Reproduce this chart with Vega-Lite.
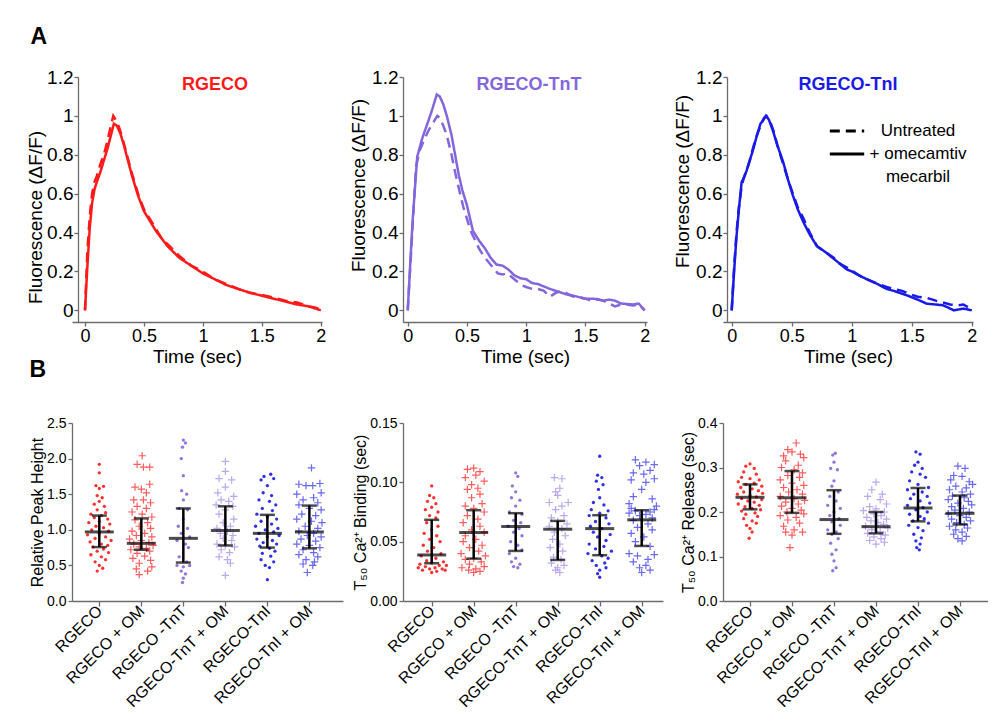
{
"$schema":"https://vega.github.io/schema/vega-lite/v6.json",
"background":"white",
"padding":{"left":26,"top":26,"right":0,"bottom":0},
"title":{"text":"A","fontSize":23,"fontWeight":"bold","anchor":"start","frame":"bounds","baseline":"middle","offset":8,"dx":4,"color":"#000"},
"config":{
 "font":"Liberation Sans",
 "view":{"stroke":null},
 "axis":{"grid":false,"domainColor":"#6b6b6b","tickColor":"#6b6b6b","domainWidth":1.3,"tickWidth":1.3,"tickSize":4,"labelColor":"#000","titleColor":"#000","titleFontWeight":"normal","labelFont":"Liberation Sans","titleFont":"Liberation Sans","labelFontSize":14,"titleFontSize":16,"labelPadding":2,"titlePadding":1},
 "title":{"font":"Liberation Sans","fontSize":18,"fontWeight":"bold","frame":"group","anchor":"middle","baseline":"middle","offset":-26},
 "legend":{"labelFont":"Liberation Sans"}
},
"datasets":{
"tr":[
{"c":"R","tr":"OM","t":0,"v":0},{"c":"R","tr":"OM","t":0.02,"v":0.22},{"c":"R","tr":"OM","t":0.04,"v":0.42},{"c":"R","tr":"OM","t":0.06,"v":0.55},{"c":"R","tr":"OM","t":0.08,"v":0.62},{"c":"R","tr":"OM","t":0.1,"v":0.66},{"c":"R","tr":"OM","t":0.13,"v":0.71},{"c":"R","tr":"OM","t":0.16,"v":0.77},{"c":"R","tr":"OM","t":0.19,"v":0.83},{"c":"R","tr":"OM","t":0.22,"v":0.9},{"c":"R","tr":"OM","t":0.245,"v":0.96},{"c":"R","tr":"OM","t":0.27,"v":0.95},{"c":"R","tr":"OM","t":0.3,"v":0.91},{"c":"R","tr":"OM","t":0.33,"v":0.85},{"c":"R","tr":"OM","t":0.36,"v":0.78},{"c":"R","tr":"OM","t":0.4,"v":0.69},{"c":"R","tr":"OM","t":0.45,"v":0.59},{"c":"R","tr":"OM","t":0.5,"v":0.51},{"c":"R","tr":"OM","t":0.55,"v":0.46},{"c":"R","tr":"OM","t":0.6,"v":0.41},{"c":"R","tr":"OM","t":0.65,"v":0.37},{"c":"R","tr":"OM","t":0.7,"v":0.33},{"c":"R","tr":"OM","t":0.75,"v":0.3},{"c":"R","tr":"OM","t":0.8,"v":0.27},{"c":"R","tr":"OM","t":0.9,"v":0.23},{"c":"R","tr":"OM","t":1.0,"v":0.19},{"c":"R","tr":"OM","t":1.1,"v":0.16},{"c":"R","tr":"OM","t":1.2,"v":0.13},{"c":"R","tr":"OM","t":1.3,"v":0.11},{"c":"R","tr":"OM","t":1.4,"v":0.09},{"c":"R","tr":"OM","t":1.5,"v":0.075},{"c":"R","tr":"OM","t":1.6,"v":0.06},{"c":"R","tr":"OM","t":1.7,"v":0.045},{"c":"R","tr":"OM","t":1.8,"v":0.03},{"c":"R","tr":"OM","t":1.9,"v":0.02},{"c":"R","tr":"OM","t":2.0,"v":0.0},
{"c":"R","tr":"U","t":0,"v":0},{"c":"R","tr":"U","t":0.02,"v":0.3},{"c":"R","tr":"U","t":0.04,"v":0.48},{"c":"R","tr":"U","t":0.06,"v":0.6},{"c":"R","tr":"U","t":0.08,"v":0.66},{"c":"R","tr":"U","t":0.1,"v":0.69},{"c":"R","tr":"U","t":0.13,"v":0.75},{"c":"R","tr":"U","t":0.16,"v":0.8},{"c":"R","tr":"U","t":0.19,"v":0.87},{"c":"R","tr":"U","t":0.22,"v":0.95},{"c":"R","tr":"U","t":0.24,"v":1.0},{"c":"R","tr":"U","t":0.26,"v":0.98},{"c":"R","tr":"U","t":0.29,"v":0.94},{"c":"R","tr":"U","t":0.32,"v":0.88},{"c":"R","tr":"U","t":0.36,"v":0.79},{"c":"R","tr":"U","t":0.4,"v":0.7},{"c":"R","tr":"U","t":0.45,"v":0.6},{"c":"R","tr":"U","t":0.5,"v":0.52},{"c":"R","tr":"U","t":0.55,"v":0.47},{"c":"R","tr":"U","t":0.6,"v":0.42},{"c":"R","tr":"U","t":0.65,"v":0.37},{"c":"R","tr":"U","t":0.7,"v":0.34},{"c":"R","tr":"U","t":0.75,"v":0.31},{"c":"R","tr":"U","t":0.8,"v":0.28},{"c":"R","tr":"U","t":0.9,"v":0.23},{"c":"R","tr":"U","t":1.0,"v":0.2},{"c":"R","tr":"U","t":1.1,"v":0.16},{"c":"R","tr":"U","t":1.2,"v":0.135},{"c":"R","tr":"U","t":1.3,"v":0.11},{"c":"R","tr":"U","t":1.4,"v":0.09},{"c":"R","tr":"U","t":1.5,"v":0.08},{"c":"R","tr":"U","t":1.6,"v":0.065},{"c":"R","tr":"U","t":1.7,"v":0.05},{"c":"R","tr":"U","t":1.8,"v":0.04},{"c":"R","tr":"U","t":1.9,"v":0.02},{"c":"R","tr":"U","t":1.95,"v":0.015},{"c":"R","tr":"U","t":2.0,"v":0.005},
{"c":"T","tr":"OM","t":0,"v":0},{"c":"T","tr":"OM","t":0.04,"v":0.45},{"c":"T","tr":"OM","t":0.08,"v":0.79},{"c":"T","tr":"OM","t":0.12,"v":0.88},{"c":"T","tr":"OM","t":0.16,"v":0.95},{"c":"T","tr":"OM","t":0.2,"v":1.02},{"c":"T","tr":"OM","t":0.245,"v":1.11},{"c":"T","tr":"OM","t":0.27,"v":1.1},{"c":"T","tr":"OM","t":0.3,"v":1.06},{"c":"T","tr":"OM","t":0.33,"v":1.0},{"c":"T","tr":"OM","t":0.37,"v":0.9},{"c":"T","tr":"OM","t":0.4,"v":0.8},{"c":"T","tr":"OM","t":0.43,"v":0.7},{"c":"T","tr":"OM","t":0.46,"v":0.62},{"c":"T","tr":"OM","t":0.5,"v":0.54},{"c":"T","tr":"OM","t":0.55,"v":0.41},{"c":"T","tr":"OM","t":0.6,"v":0.36},{"c":"T","tr":"OM","t":0.65,"v":0.32},{"c":"T","tr":"OM","t":0.7,"v":0.27},{"c":"T","tr":"OM","t":0.75,"v":0.235},{"c":"T","tr":"OM","t":0.8,"v":0.23},{"c":"T","tr":"OM","t":0.85,"v":0.21},{"c":"T","tr":"OM","t":0.9,"v":0.18},{"c":"T","tr":"OM","t":0.95,"v":0.165},{"c":"T","tr":"OM","t":1.0,"v":0.16},{"c":"T","tr":"OM","t":1.05,"v":0.14},{"c":"T","tr":"OM","t":1.1,"v":0.135},{"c":"T","tr":"OM","t":1.2,"v":0.11},{"c":"T","tr":"OM","t":1.25,"v":0.1},{"c":"T","tr":"OM","t":1.3,"v":0.09},{"c":"T","tr":"OM","t":1.35,"v":0.08},{"c":"T","tr":"OM","t":1.4,"v":0.075},{"c":"T","tr":"OM","t":1.5,"v":0.06},{"c":"T","tr":"OM","t":1.55,"v":0.06},{"c":"T","tr":"OM","t":1.6,"v":0.058},{"c":"T","tr":"OM","t":1.65,"v":0.05},{"c":"T","tr":"OM","t":1.7,"v":0.055},{"c":"T","tr":"OM","t":1.75,"v":0.05},{"c":"T","tr":"OM","t":1.8,"v":0.035},{"c":"T","tr":"OM","t":1.9,"v":0.03},{"c":"T","tr":"OM","t":1.95,"v":0.035},{"c":"T","tr":"OM","t":2.0,"v":0.0},
{"c":"T","tr":"U","t":0,"v":0},{"c":"T","tr":"U","t":0.04,"v":0.42},{"c":"T","tr":"U","t":0.07,"v":0.74},{"c":"T","tr":"U","t":0.1,"v":0.82},{"c":"T","tr":"U","t":0.14,"v":0.88},{"c":"T","tr":"U","t":0.18,"v":0.93},{"c":"T","tr":"U","t":0.22,"v":0.97},{"c":"T","tr":"U","t":0.25,"v":1.0},{"c":"T","tr":"U","t":0.27,"v":0.99},{"c":"T","tr":"U","t":0.3,"v":0.95},{"c":"T","tr":"U","t":0.33,"v":0.9},{"c":"T","tr":"U","t":0.37,"v":0.8},{"c":"T","tr":"U","t":0.4,"v":0.71},{"c":"T","tr":"U","t":0.43,"v":0.63},{"c":"T","tr":"U","t":0.47,"v":0.53},{"c":"T","tr":"U","t":0.5,"v":0.47},{"c":"T","tr":"U","t":0.53,"v":0.41},{"c":"T","tr":"U","t":0.57,"v":0.36},{"c":"T","tr":"U","t":0.6,"v":0.32},{"c":"T","tr":"U","t":0.64,"v":0.28},{"c":"T","tr":"U","t":0.68,"v":0.25},{"c":"T","tr":"U","t":0.72,"v":0.22},{"c":"T","tr":"U","t":0.76,"v":0.19},{"c":"T","tr":"U","t":0.8,"v":0.185},{"c":"T","tr":"U","t":0.84,"v":0.19},{"c":"T","tr":"U","t":0.88,"v":0.17},{"c":"T","tr":"U","t":0.92,"v":0.15},{"c":"T","tr":"U","t":0.96,"v":0.13},{"c":"T","tr":"U","t":1.0,"v":0.12},{"c":"T","tr":"U","t":1.05,"v":0.11},{"c":"T","tr":"U","t":1.1,"v":0.11},{"c":"T","tr":"U","t":1.15,"v":0.1},{"c":"T","tr":"U","t":1.2,"v":0.07},{"c":"T","tr":"U","t":1.25,"v":0.09},{"c":"T","tr":"U","t":1.3,"v":0.1},{"c":"T","tr":"U","t":1.35,"v":0.085},{"c":"T","tr":"U","t":1.4,"v":0.07},{"c":"T","tr":"U","t":1.45,"v":0.065},{"c":"T","tr":"U","t":1.5,"v":0.06},{"c":"T","tr":"U","t":1.55,"v":0.05},{"c":"T","tr":"U","t":1.6,"v":0.055},{"c":"T","tr":"U","t":1.65,"v":0.05},{"c":"T","tr":"U","t":1.7,"v":0.035},{"c":"T","tr":"U","t":1.75,"v":0.02},{"c":"T","tr":"U","t":1.8,"v":0.03},{"c":"T","tr":"U","t":1.85,"v":0.03},{"c":"T","tr":"U","t":1.9,"v":0.025},{"c":"T","tr":"U","t":1.95,"v":0.03},{"c":"T","tr":"U","t":2.0,"v":0.0},
{"c":"I","tr":"OM","t":0,"v":0},{"c":"I","tr":"OM","t":0.02,"v":0.2},{"c":"I","tr":"OM","t":0.04,"v":0.38},{"c":"I","tr":"OM","t":0.06,"v":0.52},{"c":"I","tr":"OM","t":0.083,"v":0.66},{"c":"I","tr":"OM","t":0.1,"v":0.68},{"c":"I","tr":"OM","t":0.125,"v":0.72},{"c":"I","tr":"OM","t":0.15,"v":0.77},{"c":"I","tr":"OM","t":0.18,"v":0.83},{"c":"I","tr":"OM","t":0.21,"v":0.9},{"c":"I","tr":"OM","t":0.24,"v":0.96},{"c":"I","tr":"OM","t":0.265,"v":0.98},{"c":"I","tr":"OM","t":0.285,"v":1.0},{"c":"I","tr":"OM","t":0.31,"v":0.98},{"c":"I","tr":"OM","t":0.34,"v":0.93},{"c":"I","tr":"OM","t":0.38,"v":0.85},{"c":"I","tr":"OM","t":0.43,"v":0.76},{"c":"I","tr":"OM","t":0.47,"v":0.67},{"c":"I","tr":"OM","t":0.51,"v":0.59},{"c":"I","tr":"OM","t":0.55,"v":0.52},{"c":"I","tr":"OM","t":0.6,"v":0.45},{"c":"I","tr":"OM","t":0.65,"v":0.39},{"c":"I","tr":"OM","t":0.71,"v":0.33},{"c":"I","tr":"OM","t":0.78,"v":0.3},{"c":"I","tr":"OM","t":0.85,"v":0.265},{"c":"I","tr":"OM","t":0.9,"v":0.24},{"c":"I","tr":"OM","t":0.96,"v":0.21},{"c":"I","tr":"OM","t":1.0,"v":0.2},{"c":"I","tr":"OM","t":1.06,"v":0.18},{"c":"I","tr":"OM","t":1.125,"v":0.16},{"c":"I","tr":"OM","t":1.2,"v":0.14},{"c":"I","tr":"OM","t":1.29,"v":0.11},{"c":"I","tr":"OM","t":1.35,"v":0.1},{"c":"I","tr":"OM","t":1.46,"v":0.077},{"c":"I","tr":"OM","t":1.55,"v":0.055},{"c":"I","tr":"OM","t":1.625,"v":0.034},{"c":"I","tr":"OM","t":1.7,"v":0.03},{"c":"I","tr":"OM","t":1.76,"v":0.026},{"c":"I","tr":"OM","t":1.8,"v":0.015},{"c":"I","tr":"OM","t":1.85,"v":0.0},{"c":"I","tr":"OM","t":1.93,"v":0.009},{"c":"I","tr":"OM","t":2.0,"v":0.0},
{"c":"I","tr":"U","t":0,"v":0},{"c":"I","tr":"U","t":0.02,"v":0.22},{"c":"I","tr":"U","t":0.04,"v":0.4},{"c":"I","tr":"U","t":0.06,"v":0.53},{"c":"I","tr":"U","t":0.083,"v":0.64},{"c":"I","tr":"U","t":0.1,"v":0.68},{"c":"I","tr":"U","t":0.125,"v":0.72},{"c":"I","tr":"U","t":0.15,"v":0.77},{"c":"I","tr":"U","t":0.18,"v":0.84},{"c":"I","tr":"U","t":0.21,"v":0.9},{"c":"I","tr":"U","t":0.24,"v":0.95},{"c":"I","tr":"U","t":0.27,"v":0.99},{"c":"I","tr":"U","t":0.29,"v":1.0},{"c":"I","tr":"U","t":0.32,"v":0.97},{"c":"I","tr":"U","t":0.35,"v":0.92},{"c":"I","tr":"U","t":0.38,"v":0.85},{"c":"I","tr":"U","t":0.43,"v":0.75},{"c":"I","tr":"U","t":0.47,"v":0.67},{"c":"I","tr":"U","t":0.51,"v":0.6},{"c":"I","tr":"U","t":0.55,"v":0.53},{"c":"I","tr":"U","t":0.6,"v":0.47},{"c":"I","tr":"U","t":0.62,"v":0.44},{"c":"I","tr":"U","t":0.65,"v":0.4},{"c":"I","tr":"U","t":0.71,"v":0.33},{"c":"I","tr":"U","t":0.78,"v":0.3},{"c":"I","tr":"U","t":0.85,"v":0.27},{"c":"I","tr":"U","t":0.9,"v":0.24},{"c":"I","tr":"U","t":0.96,"v":0.22},{"c":"I","tr":"U","t":1.0,"v":0.205},{"c":"I","tr":"U","t":1.06,"v":0.18},{"c":"I","tr":"U","t":1.125,"v":0.16},{"c":"I","tr":"U","t":1.2,"v":0.14},{"c":"I","tr":"U","t":1.29,"v":0.12},{"c":"I","tr":"U","t":1.35,"v":0.11},{"c":"I","tr":"U","t":1.42,"v":0.1},{"c":"I","tr":"U","t":1.5,"v":0.08},{"c":"I","tr":"U","t":1.55,"v":0.07},{"c":"I","tr":"U","t":1.62,"v":0.065},{"c":"I","tr":"U","t":1.7,"v":0.05},{"c":"I","tr":"U","t":1.76,"v":0.04},{"c":"I","tr":"U","t":1.82,"v":0.03},{"c":"I","tr":"U","t":1.88,"v":0.025},{"c":"I","tr":"U","t":1.93,"v":0.03},{"c":"I","tr":"U","t":2.0,"v":0.005}
],
"stats":[
{"m":"h","x":0,"y":0.97,"lo":0.757,"hi":1.2},{"m":"h","x":1,"y":0.81,"lo":0.72,"hi":1.16},{"m":"h","x":2,"y":0.88,"lo":0.54,"hi":1.3},{"m":"h","x":3,"y":0.99,"lo":0.78,"hi":1.33},{"m":"h","x":4,"y":0.95,"lo":0.75,"hi":1.21},{"m":"h","x":5,"y":0.97,"lo":0.74,"hi":1.34},
{"m":"b","x":0,"y":0.0388,"lo":0.0318,"hi":0.0684},{"m":"b","x":1,"y":0.0577,"lo":0.0357,"hi":0.0765},{"m":"b","x":2,"y":0.0628,"lo":0.0422,"hi":0.074},{"m":"b","x":3,"y":0.0605,"lo":0.0346,"hi":0.0675},{"m":"b","x":4,"y":0.061,"lo":0.0386,"hi":0.0723},{"m":"b","x":5,"y":0.0684,"lo":0.0464,"hi":0.0765},
{"m":"r","x":0,"y":0.233,"lo":0.206,"hi":0.262},{"m":"r","x":1,"y":0.232,"lo":0.198,"hi":0.292},{"m":"r","x":2,"y":0.183,"lo":0.151,"hi":0.249},{"m":"r","x":3,"y":0.167,"lo":0.152,"hi":0.2},{"m":"r","x":4,"y":0.209,"lo":0.179,"hi":0.254},{"m":"r","x":5,"y":0.197,"lo":0.172,"hi":0.237}
],
"pts":[
{"m":"h","g":0,"x":0,"y":1.92},{"m":"h","g":0,"x":0,"y":1.8},{"m":"h","g":0,"x":-0.08,"y":1.62},{"m":"h","g":0,"x":0.1,"y":1.61},{"m":"h","g":0,"x":0,"y":1.58},{"m":"h","g":0,"x":-0.05,"y":1.48},{"m":"h","g":0,"x":0.07,"y":1.45},{"m":"h","g":0,"x":0,"y":1.4},{"m":"h","g":0,"x":-0.12,"y":1.36},{"m":"h","g":0,"x":0.12,"y":1.33},{"m":"h","g":0,"x":-0.05,"y":1.28},{"m":"h","g":0,"x":0.15,"y":1.24},{"m":"h","g":0,"x":-0.2,"y":1.22},{"m":"h","g":0,"x":0.05,"y":1.2},{"m":"h","g":0,"x":-0.12,"y":1.17},{"m":"h","g":0,"x":0.2,"y":1.15},{"m":"h","g":0,"x":0,"y":1.12},{"m":"h","g":0,"x":-0.25,"y":1.1},{"m":"h","g":0,"x":0.25,"y":1.08},{"m":"h","g":0,"x":-0.08,"y":1.05},{"m":"h","g":0,"x":0.1,"y":1.03},{"m":"h","g":0,"x":-0.18,"y":1},{"m":"h","g":0,"x":0.22,"y":0.98},{"m":"h","g":0,"x":0,"y":0.95},{"m":"h","g":0,"x":-0.28,"y":0.93},{"m":"h","g":0,"x":0.15,"y":0.9},{"m":"h","g":0,"x":-0.1,"y":0.88},{"m":"h","g":0,"x":0.28,"y":0.85},{"m":"h","g":0,"x":-0.22,"y":0.83},{"m":"h","g":0,"x":0.05,"y":0.8},{"m":"h","g":0,"x":0.2,"y":0.78},{"m":"h","g":0,"x":-0.15,"y":0.76},{"m":"h","g":0,"x":0.1,"y":0.73},{"m":"h","g":0,"x":-0.05,"y":0.7},{"m":"h","g":0,"x":0.22,"y":0.68},{"m":"h","g":0,"x":-0.2,"y":0.65},{"m":"h","g":0,"x":0.05,"y":0.62},{"m":"h","g":0,"x":0.15,"y":0.58},{"m":"h","g":0,"x":-0.1,"y":0.55},{"m":"h","g":0,"x":0,"y":0.5},{"m":"h","g":0,"x":0.08,"y":0.46},{"m":"h","g":0,"x":-0.05,"y":0.42},
{"m":"h","g":1,"x":1.02,"y":2.04},{"m":"h","g":1,"x":0.9,"y":1.92},{"m":"h","g":1,"x":1.05,"y":1.88},{"m":"h","g":1,"x":1.2,"y":1.88},{"m":"h","g":1,"x":1.2,"y":1.64},{"m":"h","g":1,"x":0.85,"y":1.6},{"m":"h","g":1,"x":1.0,"y":1.57},{"m":"h","g":1,"x":1.12,"y":1.52},{"m":"h","g":1,"x":0.82,"y":1.42},{"m":"h","g":1,"x":1.05,"y":1.42},{"m":"h","g":1,"x":1.22,"y":1.38},{"m":"h","g":1,"x":0.9,"y":1.33},{"m":"h","g":1,"x":1.12,"y":1.3},{"m":"h","g":1,"x":0.78,"y":1.25},{"m":"h","g":1,"x":1.02,"y":1.22},{"m":"h","g":1,"x":1.25,"y":1.18},{"m":"h","g":1,"x":0.85,"y":1.14},{"m":"h","g":1,"x":1.15,"y":1.1},{"m":"h","g":1,"x":0.95,"y":1.05},{"m":"h","g":1,"x":1.22,"y":1.02},{"m":"h","g":1,"x":0.78,"y":0.98},{"m":"h","g":1,"x":1.08,"y":0.95},{"m":"h","g":1,"x":0.88,"y":0.92},{"m":"h","g":1,"x":1.25,"y":0.9},{"m":"h","g":1,"x":0.72,"y":0.87},{"m":"h","g":1,"x":1.0,"y":0.85},{"m":"h","g":1,"x":1.18,"y":0.82},{"m":"h","g":1,"x":0.82,"y":0.8},{"m":"h","g":1,"x":1.28,"y":0.78},{"m":"h","g":1,"x":0.95,"y":0.76},{"m":"h","g":1,"x":1.12,"y":0.74},{"m":"h","g":1,"x":0.75,"y":0.72},{"m":"h","g":1,"x":1.2,"y":0.7},{"m":"h","g":1,"x":0.9,"y":0.67},{"m":"h","g":1,"x":1.08,"y":0.63},{"m":"h","g":1,"x":0.8,"y":0.6},{"m":"h","g":1,"x":1.22,"y":0.57},{"m":"h","g":1,"x":0.95,"y":0.53},{"m":"h","g":1,"x":1.25,"y":0.48},{"m":"h","g":1,"x":0.88,"y":0.45},{"m":"h","g":1,"x":1.15,"y":0.42},{"m":"h","g":1,"x":0.95,"y":0.37},
{"m":"h","g":2,"x":2,"y":2.26},{"m":"h","g":2,"x":2.05,"y":2.22},{"m":"h","g":2,"x":1.98,"y":2.16},{"m":"h","g":2,"x":1.95,"y":2.0},{"m":"h","g":2,"x":2,"y":1.76},{"m":"h","g":2,"x":1.96,"y":1.55},{"m":"h","g":2,"x":2.08,"y":1.5},{"m":"h","g":2,"x":2,"y":1.42},{"m":"h","g":2,"x":1.9,"y":1.3},{"m":"h","g":2,"x":2.1,"y":1.28},{"m":"h","g":2,"x":2,"y":1.15},{"m":"h","g":2,"x":1.88,"y":1.05},{"m":"h","g":2,"x":2.1,"y":1.02},{"m":"h","g":2,"x":1.95,"y":0.95},{"m":"h","g":2,"x":2.15,"y":0.9},{"m":"h","g":2,"x":1.85,"y":0.85},{"m":"h","g":2,"x":2.05,"y":0.8},{"m":"h","g":2,"x":2.12,"y":0.75},{"m":"h","g":2,"x":1.9,"y":0.62},{"m":"h","g":2,"x":2.08,"y":0.55},{"m":"h","g":2,"x":1.85,"y":0.5},{"m":"h","g":2,"x":2.15,"y":0.5},{"m":"h","g":2,"x":2,"y":0.48},{"m":"h","g":2,"x":1.95,"y":0.42},{"m":"h","g":2,"x":2.05,"y":0.38},{"m":"h","g":2,"x":2,"y":0.32},{"m":"h","g":2,"x":1.98,"y":0.26},
{"m":"h","g":3,"x":3,"y":1.96},{"m":"h","g":3,"x":3,"y":1.82},{"m":"h","g":3,"x":2.85,"y":1.72},{"m":"h","g":3,"x":3.15,"y":1.7},{"m":"h","g":3,"x":3,"y":1.6},{"m":"h","g":3,"x":2.82,"y":1.52},{"m":"h","g":3,"x":3.2,"y":1.47},{"m":"h","g":3,"x":2.9,"y":1.42},{"m":"h","g":3,"x":3.08,"y":1.4},{"m":"h","g":3,"x":2.78,"y":1.35},{"m":"h","g":3,"x":3.18,"y":1.33},{"m":"h","g":3,"x":3,"y":1.28},{"m":"h","g":3,"x":2.85,"y":1.22},{"m":"h","g":3,"x":3.2,"y":1.15},{"m":"h","g":3,"x":2.95,"y":1.1},{"m":"h","g":3,"x":3.12,"y":1.05},{"m":"h","g":3,"x":2.8,"y":1.02},{"m":"h","g":3,"x":3.05,"y":0.98},{"m":"h","g":3,"x":2.88,"y":0.95},{"m":"h","g":3,"x":3.18,"y":0.92},{"m":"h","g":3,"x":2.95,"y":0.88},{"m":"h","g":3,"x":3.15,"y":0.85},{"m":"h","g":3,"x":2.8,"y":0.8},{"m":"h","g":3,"x":3,"y":0.78},{"m":"h","g":3,"x":3.22,"y":0.76},{"m":"h","g":3,"x":2.9,"y":0.72},{"m":"h","g":3,"x":3.1,"y":0.68},{"m":"h","g":3,"x":2.85,"y":0.62},{"m":"h","g":3,"x":3.05,"y":0.58},{"m":"h","g":3,"x":3.12,"y":0.53},{"m":"h","g":3,"x":3,"y":0.36},
{"m":"h","g":4,"x":4.08,"y":1.78},{"m":"h","g":4,"x":3.92,"y":1.75},{"m":"h","g":4,"x":4.15,"y":1.72},{"m":"h","g":4,"x":3.85,"y":1.7},{"m":"h","g":4,"x":4,"y":1.62},{"m":"h","g":4,"x":3.9,"y":1.52},{"m":"h","g":4,"x":4.1,"y":1.48},{"m":"h","g":4,"x":3.8,"y":1.42},{"m":"h","g":4,"x":4.05,"y":1.4},{"m":"h","g":4,"x":4.2,"y":1.35},{"m":"h","g":4,"x":3.88,"y":1.3},{"m":"h","g":4,"x":4.12,"y":1.27},{"m":"h","g":4,"x":3.75,"y":1.22},{"m":"h","g":4,"x":4,"y":1.18},{"m":"h","g":4,"x":4.22,"y":1.15},{"m":"h","g":4,"x":3.85,"y":1.12},{"m":"h","g":4,"x":4.1,"y":1.08},{"m":"h","g":4,"x":3.72,"y":1.05},{"m":"h","g":4,"x":4.25,"y":1.02},{"m":"h","g":4,"x":3.95,"y":1.0},{"m":"h","g":4,"x":4.15,"y":0.97},{"m":"h","g":4,"x":3.8,"y":0.95},{"m":"h","g":4,"x":4.28,"y":0.92},{"m":"h","g":4,"x":4,"y":0.9},{"m":"h","g":4,"x":3.75,"y":0.87},{"m":"h","g":4,"x":4.12,"y":0.85},{"m":"h","g":4,"x":3.9,"y":0.82},{"m":"h","g":4,"x":4.22,"y":0.8},{"m":"h","g":4,"x":3.82,"y":0.77},{"m":"h","g":4,"x":4.05,"y":0.74},{"m":"h","g":4,"x":4.18,"y":0.7},{"m":"h","g":4,"x":3.88,"y":0.67},{"m":"h","g":4,"x":4.08,"y":0.63},{"m":"h","g":4,"x":3.85,"y":0.58},{"m":"h","g":4,"x":4.15,"y":0.55},{"m":"h","g":4,"x":3.95,"y":0.5},{"m":"h","g":4,"x":4.05,"y":0.47},{"m":"h","g":4,"x":4,"y":0.3},
{"m":"h","g":5,"x":5.05,"y":1.87},{"m":"h","g":5,"x":5.25,"y":1.65},{"m":"h","g":5,"x":4.75,"y":1.64},{"m":"h","g":5,"x":5.08,"y":1.62},{"m":"h","g":5,"x":4.92,"y":1.62},{"m":"h","g":5,"x":5.28,"y":1.52},{"m":"h","g":5,"x":4.7,"y":1.5},{"m":"h","g":5,"x":5.1,"y":1.45},{"m":"h","g":5,"x":4.85,"y":1.42},{"m":"h","g":5,"x":5.2,"y":1.38},{"m":"h","g":5,"x":4.75,"y":1.35},{"m":"h","g":5,"x":5,"y":1.3},{"m":"h","g":5,"x":5.28,"y":1.28},{"m":"h","g":5,"x":4.82,"y":1.22},{"m":"h","g":5,"x":5.15,"y":1.2},{"m":"h","g":5,"x":4.7,"y":1.15},{"m":"h","g":5,"x":5.05,"y":1.12},{"m":"h","g":5,"x":5.3,"y":1.1},{"m":"h","g":5,"x":4.9,"y":1.05},{"m":"h","g":5,"x":5.2,"y":1.02},{"m":"h","g":5,"x":4.75,"y":0.98},{"m":"h","g":5,"x":5.1,"y":0.95},{"m":"h","g":5,"x":4.95,"y":0.92},{"m":"h","g":5,"x":5.28,"y":0.9},{"m":"h","g":5,"x":4.8,"y":0.87},{"m":"h","g":5,"x":5.15,"y":0.84},{"m":"h","g":5,"x":4.7,"y":0.8},{"m":"h","g":5,"x":5,"y":0.78},{"m":"h","g":5,"x":5.25,"y":0.75},{"m":"h","g":5,"x":4.85,"y":0.72},{"m":"h","g":5,"x":5.1,"y":0.68},{"m":"h","g":5,"x":4.75,"y":0.65},{"m":"h","g":5,"x":5.2,"y":0.62},{"m":"h","g":5,"x":4.92,"y":0.58},{"m":"h","g":5,"x":5.12,"y":0.55},{"m":"h","g":5,"x":4.85,"y":0.52},{"m":"h","g":5,"x":5.08,"y":0.5},{"m":"h","g":5,"x":4.95,"y":0.4},
{"m":"b","g":0,"x":0,"y":0.097},{"m":"b","g":0,"x":-0.05,"y":0.089},{"m":"b","g":0,"x":0.05,"y":0.087},{"m":"b","g":0,"x":-0.1,"y":0.084},{"m":"b","g":0,"x":0.1,"y":0.082},{"m":"b","g":0,"x":0,"y":0.079},{"m":"b","g":0,"x":-0.15,"y":0.077},{"m":"b","g":0,"x":0.15,"y":0.075},{"m":"b","g":0,"x":-0.05,"y":0.072},{"m":"b","g":0,"x":0.1,"y":0.07},{"m":"b","g":0,"x":-0.12,"y":0.066},{"m":"b","g":0,"x":0.15,"y":0.063},{"m":"b","g":0,"x":0,"y":0.06},{"m":"b","g":0,"x":-0.18,"y":0.057},{"m":"b","g":0,"x":0.12,"y":0.055},{"m":"b","g":0,"x":-0.05,"y":0.052},{"m":"b","g":0,"x":0.2,"y":0.05},{"m":"b","g":0,"x":-0.2,"y":0.047},{"m":"b","g":0,"x":0.05,"y":0.045},{"m":"b","g":0,"x":-0.1,"y":0.042},{"m":"b","g":0,"x":0.22,"y":0.04},{"m":"b","g":0,"x":-0.25,"y":0.038},{"m":"b","g":0,"x":0.1,"y":0.036},{"m":"b","g":0,"x":-0.12,"y":0.034},{"m":"b","g":0,"x":0.28,"y":0.033},{"m":"b","g":0,"x":0,"y":0.032},{"m":"b","g":0,"x":-0.28,"y":0.031},{"m":"b","g":0,"x":0.18,"y":0.03},{"m":"b","g":0,"x":-0.15,"y":0.029},{"m":"b","g":0,"x":0.08,"y":0.028},{"m":"b","g":0,"x":-0.05,"y":0.027},{"m":"b","g":0,"x":0.25,"y":0.027},{"m":"b","g":0,"x":-0.22,"y":0.026},{"m":"b","g":0,"x":0.12,"y":0.025},{"m":"b","g":0,"x":0,"y":0.024},{"m":"b","g":0,"x":-0.32,"y":0.028},{"m":"b","g":0,"x":0.32,"y":0.026},{"m":"b","g":0,"x":0.35,"y":0.03},
{"m":"b","g":1,"x":1,"y":0.112},{"m":"b","g":1,"x":0.85,"y":0.111},{"m":"b","g":1,"x":1.15,"y":0.109},{"m":"b","g":1,"x":1.05,"y":0.106},{"m":"b","g":1,"x":0.8,"y":0.104},{"m":"b","g":1,"x":1.25,"y":0.101},{"m":"b","g":1,"x":0.95,"y":0.098},{"m":"b","g":1,"x":1.1,"y":0.095},{"m":"b","g":1,"x":0.85,"y":0.094},{"m":"b","g":1,"x":1.15,"y":0.09},{"m":"b","g":1,"x":0.95,"y":0.087},{"m":"b","g":1,"x":1.2,"y":0.082},{"m":"b","g":1,"x":0.8,"y":0.08},{"m":"b","g":1,"x":1,"y":0.078},{"m":"b","g":1,"x":1.25,"y":0.075},{"m":"b","g":1,"x":0.85,"y":0.072},{"m":"b","g":1,"x":1.1,"y":0.069},{"m":"b","g":1,"x":0.75,"y":0.066},{"m":"b","g":1,"x":1.15,"y":0.063},{"m":"b","g":1,"x":0.95,"y":0.06},{"m":"b","g":1,"x":1.25,"y":0.058},{"m":"b","g":1,"x":0.8,"y":0.055},{"m":"b","g":1,"x":1.05,"y":0.052},{"m":"b","g":1,"x":0.75,"y":0.05},{"m":"b","g":1,"x":1.2,"y":0.047},{"m":"b","g":1,"x":0.9,"y":0.045},{"m":"b","g":1,"x":1.12,"y":0.042},{"m":"b","g":1,"x":0.7,"y":0.04},{"m":"b","g":1,"x":1.28,"y":0.038},{"m":"b","g":1,"x":1,"y":0.036},{"m":"b","g":1,"x":0.8,"y":0.035},{"m":"b","g":1,"x":1.18,"y":0.033},{"m":"b","g":1,"x":0.9,"y":0.031},{"m":"b","g":1,"x":1.25,"y":0.029},{"m":"b","g":1,"x":0.72,"y":0.028},{"m":"b","g":1,"x":1.05,"y":0.027},{"m":"b","g":1,"x":0.88,"y":0.026},{"m":"b","g":1,"x":1.15,"y":0.025},{"m":"b","g":1,"x":1,"y":0.024},
{"m":"b","g":2,"x":2,"y":0.108},{"m":"b","g":2,"x":2.05,"y":0.105},{"m":"b","g":2,"x":1.92,"y":0.097},{"m":"b","g":2,"x":2,"y":0.092},{"m":"b","g":2,"x":1.9,"y":0.087},{"m":"b","g":2,"x":2.1,"y":0.085},{"m":"b","g":2,"x":2,"y":0.08},{"m":"b","g":2,"x":1.85,"y":0.075},{"m":"b","g":2,"x":2.15,"y":0.073},{"m":"b","g":2,"x":1.95,"y":0.068},{"m":"b","g":2,"x":2.12,"y":0.066},{"m":"b","g":2,"x":1.82,"y":0.063},{"m":"b","g":2,"x":2.08,"y":0.061},{"m":"b","g":2,"x":1.95,"y":0.058},{"m":"b","g":2,"x":2.15,"y":0.055},{"m":"b","g":2,"x":1.88,"y":0.05},{"m":"b","g":2,"x":2.05,"y":0.047},{"m":"b","g":2,"x":2.15,"y":0.043},{"m":"b","g":2,"x":1.85,"y":0.04},{"m":"b","g":2,"x":2,"y":0.036},{"m":"b","g":2,"x":1.9,"y":0.033},{"m":"b","g":2,"x":2.1,"y":0.031},{"m":"b","g":2,"x":1.95,"y":0.029},{"m":"b","g":2,"x":2.05,"y":0.028},
{"m":"b","g":3,"x":2.92,"y":0.104},{"m":"b","g":3,"x":3.1,"y":0.103},{"m":"b","g":3,"x":3.05,"y":0.095},{"m":"b","g":3,"x":2.95,"y":0.092},{"m":"b","g":3,"x":3,"y":0.089},{"m":"b","g":3,"x":2.8,"y":0.083},{"m":"b","g":3,"x":3.25,"y":0.083},{"m":"b","g":3,"x":3.1,"y":0.08},{"m":"b","g":3,"x":2.95,"y":0.077},{"m":"b","g":3,"x":3.15,"y":0.072},{"m":"b","g":3,"x":2.85,"y":0.07},{"m":"b","g":3,"x":3,"y":0.067},{"m":"b","g":3,"x":3.22,"y":0.065},{"m":"b","g":3,"x":2.8,"y":0.063},{"m":"b","g":3,"x":3.1,"y":0.061},{"m":"b","g":3,"x":2.92,"y":0.058},{"m":"b","g":3,"x":3.18,"y":0.055},{"m":"b","g":3,"x":2.88,"y":0.052},{"m":"b","g":3,"x":3.05,"y":0.048},{"m":"b","g":3,"x":2.82,"y":0.045},{"m":"b","g":3,"x":3.12,"y":0.042},{"m":"b","g":3,"x":2.9,"y":0.037},{"m":"b","g":3,"x":3.08,"y":0.035},{"m":"b","g":3,"x":2.85,"y":0.032},{"m":"b","g":3,"x":3.15,"y":0.03},{"m":"b","g":3,"x":3,"y":0.028},{"m":"b","g":3,"x":2.95,"y":0.026},{"m":"b","g":3,"x":3.05,"y":0.024},
{"m":"b","g":4,"x":4,"y":0.122},{"m":"b","g":4,"x":3.95,"y":0.106},{"m":"b","g":4,"x":4.05,"y":0.104},{"m":"b","g":4,"x":3.92,"y":0.101},{"m":"b","g":4,"x":4.08,"y":0.098},{"m":"b","g":4,"x":3.97,"y":0.094},{"m":"b","g":4,"x":4,"y":0.087},{"m":"b","g":4,"x":3.85,"y":0.083},{"m":"b","g":4,"x":4.1,"y":0.081},{"m":"b","g":4,"x":3.8,"y":0.077},{"m":"b","g":4,"x":4.2,"y":0.076},{"m":"b","g":4,"x":4,"y":0.074},{"m":"b","g":4,"x":3.75,"y":0.072},{"m":"b","g":4,"x":4.15,"y":0.07},{"m":"b","g":4,"x":3.9,"y":0.067},{"m":"b","g":4,"x":4.22,"y":0.065},{"m":"b","g":4,"x":3.78,"y":0.063},{"m":"b","g":4,"x":4.05,"y":0.061},{"m":"b","g":4,"x":3.85,"y":0.058},{"m":"b","g":4,"x":4.25,"y":0.056},{"m":"b","g":4,"x":3.95,"y":0.054},{"m":"b","g":4,"x":4.15,"y":0.051},{"m":"b","g":4,"x":3.75,"y":0.048},{"m":"b","g":4,"x":4.1,"y":0.046},{"m":"b","g":4,"x":3.9,"y":0.044},{"m":"b","g":4,"x":4.28,"y":0.042},{"m":"b","g":4,"x":3.72,"y":0.04},{"m":"b","g":4,"x":4.05,"y":0.038},{"m":"b","g":4,"x":4.2,"y":0.036},{"m":"b","g":4,"x":3.82,"y":0.034},{"m":"b","g":4,"x":4.12,"y":0.032},{"m":"b","g":4,"x":3.92,"y":0.03},{"m":"b","g":4,"x":4.15,"y":0.028},{"m":"b","g":4,"x":4,"y":0.026},{"m":"b","g":4,"x":3.95,"y":0.023},{"m":"b","g":4,"x":4,"y":0.02},
{"m":"b","g":5,"x":4.85,"y":0.119},{"m":"b","g":5,"x":5.1,"y":0.117},{"m":"b","g":5,"x":5.3,"y":0.115},{"m":"b","g":5,"x":4.95,"y":0.114},{"m":"b","g":5,"x":5.2,"y":0.11},{"m":"b","g":5,"x":4.8,"y":0.108},{"m":"b","g":5,"x":5.05,"y":0.107},{"m":"b","g":5,"x":5.3,"y":0.103},{"m":"b","g":5,"x":4.75,"y":0.102},{"m":"b","g":5,"x":5.1,"y":0.1},{"m":"b","g":5,"x":5,"y":0.094},{"m":"b","g":5,"x":4.8,"y":0.088},{"m":"b","g":5,"x":5.25,"y":0.086},{"m":"b","g":5,"x":4.7,"y":0.082},{"m":"b","g":5,"x":5.35,"y":0.08},{"m":"b","g":5,"x":4.75,"y":0.078},{"m":"b","g":5,"x":5.3,"y":0.077},{"m":"b","g":5,"x":4.85,"y":0.076},{"m":"b","g":5,"x":5.2,"y":0.075},{"m":"b","g":5,"x":4.7,"y":0.074},{"m":"b","g":5,"x":5.1,"y":0.073},{"m":"b","g":5,"x":4.95,"y":0.072},{"m":"b","g":5,"x":5.25,"y":0.07},{"m":"b","g":5,"x":4.8,"y":0.068},{"m":"b","g":5,"x":5.15,"y":0.065},{"m":"b","g":5,"x":4.9,"y":0.062},{"m":"b","g":5,"x":5.25,"y":0.06},{"m":"b","g":5,"x":4.75,"y":0.057},{"m":"b","g":5,"x":5.05,"y":0.054},{"m":"b","g":5,"x":4.85,"y":0.05},{"m":"b","g":5,"x":5.2,"y":0.046},{"m":"b","g":5,"x":4.7,"y":0.04},{"m":"b","g":5,"x":5.3,"y":0.039},{"m":"b","g":5,"x":4.9,"y":0.038},{"m":"b","g":5,"x":5.15,"y":0.035},{"m":"b","g":5,"x":4.8,"y":0.033},{"m":"b","g":5,"x":5.1,"y":0.03},{"m":"b","g":5,"x":4.95,"y":0.028},{"m":"b","g":5,"x":5.2,"y":0.026},{"m":"b","g":5,"x":5,"y":0.024},
{"m":"r","g":0,"x":0,"y":0.308},{"m":"r","g":0,"x":-0.1,"y":0.303},{"m":"r","g":0,"x":0.1,"y":0.298},{"m":"r","g":0,"x":-0.15,"y":0.29},{"m":"r","g":0,"x":0.15,"y":0.285},{"m":"r","g":0,"x":-0.2,"y":0.278},{"m":"r","g":0,"x":0,"y":0.275},{"m":"r","g":0,"x":0.22,"y":0.272},{"m":"r","g":0,"x":-0.28,"y":0.268},{"m":"r","g":0,"x":0.1,"y":0.265},{"m":"r","g":0,"x":-0.1,"y":0.262},{"m":"r","g":0,"x":0.28,"y":0.258},{"m":"r","g":0,"x":-0.22,"y":0.255},{"m":"r","g":0,"x":0.05,"y":0.252},{"m":"r","g":0,"x":0.2,"y":0.248},{"m":"r","g":0,"x":-0.15,"y":0.245},{"m":"r","g":0,"x":0.3,"y":0.242},{"m":"r","g":0,"x":-0.3,"y":0.24},{"m":"r","g":0,"x":0,"y":0.237},{"m":"r","g":0,"x":0.15,"y":0.234},{"m":"r","g":0,"x":-0.2,"y":0.23},{"m":"r","g":0,"x":0.28,"y":0.228},{"m":"r","g":0,"x":-0.05,"y":0.225},{"m":"r","g":0,"x":0.1,"y":0.222},{"m":"r","g":0,"x":-0.28,"y":0.218},{"m":"r","g":0,"x":0.22,"y":0.215},{"m":"r","g":0,"x":-0.12,"y":0.212},{"m":"r","g":0,"x":0.05,"y":0.208},{"m":"r","g":0,"x":0.25,"y":0.205},{"m":"r","g":0,"x":-0.2,"y":0.202},{"m":"r","g":0,"x":0.12,"y":0.198},{"m":"r","g":0,"x":-0.1,"y":0.195},{"m":"r","g":0,"x":0.18,"y":0.19},{"m":"r","g":0,"x":-0.15,"y":0.185},{"m":"r","g":0,"x":0.05,"y":0.18},{"m":"r","g":0,"x":0.15,"y":0.175},{"m":"r","g":0,"x":-0.08,"y":0.17},{"m":"r","g":0,"x":0,"y":0.163},{"m":"r","g":0,"x":0.05,"y":0.155},{"m":"r","g":0,"x":-0.02,"y":0.141},
{"m":"r","g":1,"x":1.1,"y":0.355},{"m":"r","g":1,"x":0.9,"y":0.34},{"m":"r","g":1,"x":1,"y":0.335},{"m":"r","g":1,"x":1.2,"y":0.33},{"m":"r","g":1,"x":0.8,"y":0.326},{"m":"r","g":1,"x":1.28,"y":0.322},{"m":"r","g":1,"x":0.85,"y":0.315},{"m":"r","g":1,"x":1.15,"y":0.305},{"m":"r","g":1,"x":0.75,"y":0.3},{"m":"r","g":1,"x":1.05,"y":0.295},{"m":"r","g":1,"x":1.25,"y":0.288},{"m":"r","g":1,"x":0.9,"y":0.282},{"m":"r","g":1,"x":1.18,"y":0.278},{"m":"r","g":1,"x":0.72,"y":0.272},{"m":"r","g":1,"x":1,"y":0.265},{"m":"r","g":1,"x":1.28,"y":0.26},{"m":"r","g":1,"x":0.8,"y":0.255},{"m":"r","g":1,"x":1.12,"y":0.25},{"m":"r","g":1,"x":0.92,"y":0.245},{"m":"r","g":1,"x":1.25,"y":0.24},{"m":"r","g":1,"x":0.72,"y":0.235},{"m":"r","g":1,"x":1.05,"y":0.23},{"m":"r","g":1,"x":1.3,"y":0.226},{"m":"r","g":1,"x":0.85,"y":0.222},{"m":"r","g":1,"x":1.15,"y":0.218},{"m":"r","g":1,"x":0.75,"y":0.213},{"m":"r","g":1,"x":1,"y":0.208},{"m":"r","g":1,"x":1.22,"y":0.204},{"m":"r","g":1,"x":0.88,"y":0.2},{"m":"r","g":1,"x":1.28,"y":0.196},{"m":"r","g":1,"x":0.72,"y":0.192},{"m":"r","g":1,"x":1.1,"y":0.188},{"m":"r","g":1,"x":0.9,"y":0.182},{"m":"r","g":1,"x":1.18,"y":0.175},{"m":"r","g":1,"x":0.8,"y":0.168},{"m":"r","g":1,"x":1.05,"y":0.16},{"m":"r","g":1,"x":0.85,"y":0.155},{"m":"r","g":1,"x":1.25,"y":0.155},{"m":"r","g":1,"x":1,"y":0.148},{"m":"r","g":1,"x":0.95,"y":0.12},
{"m":"r","g":2,"x":2.03,"y":0.332},{"m":"r","g":2,"x":1.97,"y":0.328},{"m":"r","g":2,"x":2,"y":0.312},{"m":"r","g":2,"x":1.92,"y":0.298},{"m":"r","g":2,"x":2.08,"y":0.295},{"m":"r","g":2,"x":2,"y":0.27},{"m":"r","g":2,"x":1.95,"y":0.258},{"m":"r","g":2,"x":2.1,"y":0.245},{"m":"r","g":2,"x":1.9,"y":0.235},{"m":"r","g":2,"x":2.05,"y":0.225},{"m":"r","g":2,"x":1.85,"y":0.215},{"m":"r","g":2,"x":2.15,"y":0.208},{"m":"r","g":2,"x":2,"y":0.2},{"m":"r","g":2,"x":1.9,"y":0.192},{"m":"r","g":2,"x":2.12,"y":0.185},{"m":"r","g":2,"x":1.95,"y":0.178},{"m":"r","g":2,"x":2.15,"y":0.17},{"m":"r","g":2,"x":1.85,"y":0.16},{"m":"r","g":2,"x":2.05,"y":0.155},{"m":"r","g":2,"x":1.95,"y":0.15},{"m":"r","g":2,"x":2.1,"y":0.14},{"m":"r","g":2,"x":1.92,"y":0.13},{"m":"r","g":2,"x":2.05,"y":0.115},{"m":"r","g":2,"x":1.95,"y":0.105},{"m":"r","g":2,"x":2,"y":0.09},{"m":"r","g":2,"x":2.05,"y":0.075},{"m":"r","g":2,"x":1.97,"y":0.068},
{"m":"r","g":3,"x":3,"y":0.267},{"m":"r","g":3,"x":2.9,"y":0.25},{"m":"r","g":3,"x":3.15,"y":0.24},{"m":"r","g":3,"x":2.8,"y":0.235},{"m":"r","g":3,"x":3.1,"y":0.228},{"m":"r","g":3,"x":3.25,"y":0.218},{"m":"r","g":3,"x":2.85,"y":0.212},{"m":"r","g":3,"x":3,"y":0.207},{"m":"r","g":3,"x":2.7,"y":0.203},{"m":"r","g":3,"x":3.2,"y":0.2},{"m":"r","g":3,"x":2.95,"y":0.196},{"m":"r","g":3,"x":3.12,"y":0.192},{"m":"r","g":3,"x":2.78,"y":0.188},{"m":"r","g":3,"x":3.25,"y":0.184},{"m":"r","g":3,"x":2.88,"y":0.18},{"m":"r","g":3,"x":3.05,"y":0.176},{"m":"r","g":3,"x":3.18,"y":0.172},{"m":"r","g":3,"x":2.75,"y":0.168},{"m":"r","g":3,"x":3.28,"y":0.164},{"m":"r","g":3,"x":2.9,"y":0.16},{"m":"r","g":3,"x":3.1,"y":0.156},{"m":"r","g":3,"x":2.8,"y":0.152},{"m":"r","g":3,"x":3.22,"y":0.148},{"m":"r","g":3,"x":2.95,"y":0.144},{"m":"r","g":3,"x":3.12,"y":0.14},{"m":"r","g":3,"x":2.85,"y":0.136},{"m":"r","g":3,"x":3.2,"y":0.132},{"m":"r","g":3,"x":3,"y":0.128},
{"m":"r","g":4,"x":3.95,"y":0.335},{"m":"r","g":4,"x":4.05,"y":0.33},{"m":"r","g":4,"x":4,"y":0.312},{"m":"r","g":4,"x":3.92,"y":0.305},{"m":"r","g":4,"x":4.1,"y":0.298},{"m":"r","g":4,"x":3.85,"y":0.29},{"m":"r","g":4,"x":4.05,"y":0.285},{"m":"r","g":4,"x":4.18,"y":0.278},{"m":"r","g":4,"x":3.8,"y":0.27},{"m":"r","g":4,"x":4,"y":0.262},{"m":"r","g":4,"x":4.25,"y":0.255},{"m":"r","g":4,"x":3.75,"y":0.25},{"m":"r","g":4,"x":4.1,"y":0.245},{"m":"r","g":4,"x":3.9,"y":0.24},{"m":"r","g":4,"x":4.22,"y":0.235},{"m":"r","g":4,"x":3.82,"y":0.23},{"m":"r","g":4,"x":4.05,"y":0.225},{"m":"r","g":4,"x":4.28,"y":0.22},{"m":"r","g":4,"x":3.75,"y":0.215},{"m":"r","g":4,"x":4.12,"y":0.21},{"m":"r","g":4,"x":3.95,"y":0.205},{"m":"r","g":4,"x":4.22,"y":0.2},{"m":"r","g":4,"x":3.8,"y":0.195},{"m":"r","g":4,"x":4.05,"y":0.19},{"m":"r","g":4,"x":4.15,"y":0.185},{"m":"r","g":4,"x":3.88,"y":0.18},{"m":"r","g":4,"x":4.25,"y":0.175},{"m":"r","g":4,"x":3.78,"y":0.17},{"m":"r","g":4,"x":4,"y":0.165},{"m":"r","g":4,"x":4.12,"y":0.158},{"m":"r","g":4,"x":3.9,"y":0.15},{"m":"r","g":4,"x":4.08,"y":0.142},{"m":"r","g":4,"x":3.95,"y":0.135},{"m":"r","g":4,"x":4.05,"y":0.128},{"m":"r","g":4,"x":3.97,"y":0.12},{"m":"r","g":4,"x":4.03,"y":0.115},
{"m":"r","g":5,"x":4.95,"y":0.303},{"m":"r","g":5,"x":5.12,"y":0.298},{"m":"r","g":5,"x":4.85,"y":0.282},{"m":"r","g":5,"x":5.05,"y":0.28},{"m":"r","g":5,"x":4.78,"y":0.272},{"m":"r","g":5,"x":5.22,"y":0.268},{"m":"r","g":5,"x":5.3,"y":0.262},{"m":"r","g":5,"x":4.9,"y":0.258},{"m":"r","g":5,"x":5.15,"y":0.254},{"m":"r","g":5,"x":4.75,"y":0.25},{"m":"r","g":5,"x":5.05,"y":0.245},{"m":"r","g":5,"x":5.25,"y":0.24},{"m":"r","g":5,"x":4.82,"y":0.236},{"m":"r","g":5,"x":5.1,"y":0.232},{"m":"r","g":5,"x":4.72,"y":0.228},{"m":"r","g":5,"x":5.2,"y":0.224},{"m":"r","g":5,"x":4.95,"y":0.22},{"m":"r","g":5,"x":5.28,"y":0.216},{"m":"r","g":5,"x":4.8,"y":0.212},{"m":"r","g":5,"x":5.08,"y":0.208},{"m":"r","g":5,"x":4.88,"y":0.204},{"m":"r","g":5,"x":5.22,"y":0.2},{"m":"r","g":5,"x":4.72,"y":0.196},{"m":"r","g":5,"x":5,"y":0.192},{"m":"r","g":5,"x":5.15,"y":0.188},{"m":"r","g":5,"x":4.8,"y":0.184},{"m":"r","g":5,"x":5.25,"y":0.18},{"m":"r","g":5,"x":4.92,"y":0.176},{"m":"r","g":5,"x":5.1,"y":0.172},{"m":"r","g":5,"x":4.75,"y":0.168},{"m":"r","g":5,"x":5.18,"y":0.164},{"m":"r","g":5,"x":4.9,"y":0.16},{"m":"r","g":5,"x":5.05,"y":0.155},{"m":"r","g":5,"x":4.85,"y":0.15},{"m":"r","g":5,"x":5.15,"y":0.145},{"m":"r","g":5,"x":4.95,"y":0.14},{"m":"r","g":5,"x":5.05,"y":0.135}
]
},
"columns":3,
"align":"each",
"bounds":"flush",
"spacing":{"row":101,"column":60},
"resolve":{"scale":{"strokeDash":"independent","color":"independent"},"legend":{"strokeDash":"independent","color":"independent"}},
"concat":[
{"width":250,"height":245,"title":{"text":"RGECO","color":"#ff1a1a","dx":18},
 "data":{"name":"tr"},"transform":[{"filter":"datum.c=='R'"}],
 "mark":{"type":"line","strokeWidth":2.5,"color":"#ff1a1a","clip":true},
 "encoding":{
  "x":{"field":"t","type":"quantitative","scale":{"domain":[-0.11,2.01],"nice":false,"zero":false},"axis":{"values":[0,0.5,1,1.5,2],"format":"~g","title":"Time (sec)","labelFontSize":18,"titleFontSize":19,"labelPadding":1,"titlePadding":2}},
  "y":{"field":"v","type":"quantitative","scale":{"domain":[-0.06,1.2],"nice":false,"zero":false},"axis":{"values":[0,0.2,0.4,0.6,0.8,1,1.2],"format":"~g","title":"Fluorescence (ΔF/F)","labelFontSize":19,"titleFontSize":19,"labelPadding":1,"titlePadding":1,"titleY":140,"offset":-6}},
  "strokeDash":{"field":"tr","type":"nominal","scale":{"domain":["U","OM"],"range":[[10,6],[1,0]]},"legend":null}
 }},
{"width":244,"height":245,"title":{"text":"RGECO-TnT","color":"#8466dc","dx":4},
 "data":{"name":"tr"},"transform":[{"filter":"datum.c=='T'"}],
 "mark":{"type":"line","strokeWidth":2.5,"color":"#8466dc","clip":true},
 "encoding":{
  "x":{"field":"t","type":"quantitative","scale":{"domain":[-0.04,2.02],"nice":false,"zero":false},"axis":{"values":[0,0.5,1,1.5,2],"format":"~g","title":"Time (sec)","labelFontSize":18,"titleFontSize":19,"labelPadding":1,"titlePadding":2}},
  "y":{"field":"v","type":"quantitative","scale":{"domain":[-0.06,1.2],"nice":false,"zero":false},"axis":{"values":[0,0.2,0.4,0.6,0.8,1,1.2],"format":"~g","title":"Fluorescence (ΔF/F)","labelFontSize":19,"titleFontSize":19,"labelPadding":1,"titlePadding":3,"titleY":108}},
  "strokeDash":{"field":"tr","type":"nominal","scale":{"domain":["U","OM"],"range":[[10,6],[1,0]]},"legend":null}
 }},
{"width":250,"height":245,"title":{"text":"RGECO-TnI","color":"#1a1ae6","dx":0},
 "data":{"name":"tr"},"transform":[{"filter":"datum.c=='I'"}],
 "mark":{"type":"line","strokeWidth":2.5,"color":"#1a1ae6","clip":true},
 "encoding":{
  "x":{"field":"t","type":"quantitative","scale":{"domain":[-0.0725,2.01],"nice":false,"zero":false},"axis":{"values":[0,0.5,1,1.5,2],"format":"~g","title":"Time (sec)","labelFontSize":18,"titleFontSize":19,"labelPadding":1,"titlePadding":2}},
  "y":{"field":"v","type":"quantitative","scale":{"domain":[-0.06,1.2],"nice":false,"zero":false},"axis":{"values":[0,0.2,0.4,0.6,0.8,1,1.2],"format":"~g","title":"Fluorescence (ΔF/F)","labelFontSize":19,"titleFontSize":19,"labelPadding":1,"titlePadding":3,"titleY":104,"offset":-4}},
  "strokeDash":{"field":"tr","type":"nominal","scale":{"domain":["U","OM","mec"],"range":[[10,6],[1,0],[0,100]]},
   "legend":{"orient":"none","legendX":109,"legendY":39,"title":null,"padding":0,"symbolType":"M-1.3,0H1.3","symbolStrokeColor":"#000","symbolStrokeWidth":3,"symbolSize":700,"labelFontSize":17,"labelColor":"#000","labelAlign":"center","labelOffset":56,"rowPadding":0,"labelExpr":"datum.value=='U' ? 'Untreated' : datum.value=='OM' ? '+ omecamtiv' : 'mecarbil'"}}
 }},
{"width":271,"height":178,
 "title":{"text":"B","fontSize":23,"fontWeight":"bold","anchor":"start","frame":"bounds","baseline":"middle","offset":23,"dx":0,"color":"#000"},
 "encoding":{
  "x":{"field":"x","type":"quantitative","scale":{"domain":[-0.65,5.8],"nice":false,"zero":false},"axis":{"title":null,"values":[0,1,2,3,4,5],"labelExpr":"['RGECO','RGECO + OM','RGECO -TnT','RGECO-TnT + OM','RGECO-TnI','RGECO-TnI + OM'][datum.value]","labelAngle":-45,"labelAlign":"right","labelBaseline":"middle","labelFontSize":16,"labelPadding":2,"tickSize":5,"labelOverlap":false}},
  "y":{"field":"y","type":"quantitative","scale":{"domain":[0,2.5],"nice":false},"axis":{"title":"Relative Peak Height","values":[0,0.5,1,1.5,2,2.5],"format":".1f"}}
 },
 "layer":[
  {"data":{"values":[{"x":1.5},{"x":3.5}]},"mark":{"type":"rule","color":"#a0a0a0","strokeDash":[6,4],"strokeWidth":1.5},"encoding":{"y":{"datum":0,"type":"quantitative","scale":{"domain":[0,2.5],"nice":false},"axis":{"title":"Relative Peak Height","values":[0,0.5,1,1.5,2,2.5],"format":".1f"}},"y2":{"datum":2.58}}},
  {"data":{"name":"pts"},"transform":[{"filter":"datum.m=='h' && datum.g%2==0"}],"mark":{"type":"point","filled":true,"size":11,"opacity":0.9},"encoding":{"color":{"field":"g","type":"nominal","scale":{"domain":[0,1,2,3,4,5],"range":["#ff1a1a","#ff4040","#8466dc","#ad9bee","#1a1ae6","#4f4ff2"]},"legend":null}}},
  {"data":{"name":"pts"},"transform":[{"filter":"datum.m=='h' && datum.g%2==1"}],"mark":{"type":"point","filled":false,"shape":"M-1,0H1M0,-1V1","size":55,"strokeWidth":1.2,"opacity":0.85},"encoding":{"color":{"field":"g","type":"nominal","scale":{"domain":[0,1,2,3,4,5],"range":["#ff1a1a","#ff4040","#8466dc","#ad9bee","#1a1ae6","#4f4ff2"]},"legend":null}}},
  {"data":{"name":"stats"},"transform":[{"filter":"datum.m=='h'"}],"mark":{"type":"rule","color":"#000","strokeWidth":2.5},"encoding":{"y":{"field":"lo","type":"quantitative","scale":{"domain":[0,2.5],"nice":false},"axis":{"title":"Relative Peak Height","values":[0,0.5,1,1.5,2,2.5],"format":".1f"}},"y2":{"field":"hi"}}},
  {"data":{"name":"stats"},"transform":[{"filter":"datum.m=='h'"},{"fold":["lo","hi"],"as":["k","v"]}],"mark":{"type":"tick","orient":"horizontal","color":"#000","size":15,"thickness":2.5},"encoding":{"y":{"field":"v","type":"quantitative","scale":{"domain":[0,2.5],"nice":false},"axis":{"title":"Relative Peak Height","values":[0,0.5,1,1.5,2,2.5],"format":".1f"}}}},
  {"data":{"name":"stats"},"transform":[{"filter":"datum.m=='h'"}],"mark":{"type":"tick","orient":"horizontal","color":"#000","size":29,"thickness":3}}
 ]},
{"width":260,"height":178,
 "encoding":{
  "x":{"field":"x","type":"quantitative","scale":{"domain":[-0.683,5.507],"nice":false,"zero":false},"axis":{"title":null,"values":[0,1,2,3,4,5],"labelExpr":"['RGECO','RGECO + OM','RGECO -TnT','RGECO-TnT + OM','RGECO-TnI','RGECO-TnI + OM'][datum.value]","labelAngle":-45,"labelAlign":"right","labelBaseline":"middle","labelFontSize":16,"labelPadding":2,"tickSize":5,"labelOverlap":false}},
  "y":{"field":"y","type":"quantitative","scale":{"domain":[0,0.15],"nice":false},"axis":{"title":"T₅₀ Ca²⁺ Binding (sec)","values":[0,0.05,0.1,0.15],"format":".2f"}}
 },
 "layer":[
  {"data":{"values":[{"x":1.5},{"x":3.5}]},"mark":{"type":"rule","color":"#a0a0a0","strokeDash":[6,4],"strokeWidth":1.5},"encoding":{"y":{"datum":0,"type":"quantitative","scale":{"domain":[0,0.15],"nice":false},"axis":{"title":"T₅₀ Ca²⁺ Binding (sec)","values":[0,0.05,0.1,0.15],"format":".2f"}},"y2":{"datum":0.1525}}},
  {"data":{"name":"pts"},"transform":[{"filter":"datum.m=='b' && datum.g%2==0"}],"mark":{"type":"point","filled":true,"size":11,"opacity":0.9},"encoding":{"color":{"field":"g","type":"nominal","scale":{"domain":[0,1,2,3,4,5],"range":["#ff1a1a","#ff4040","#8466dc","#ad9bee","#1a1ae6","#4f4ff2"]},"legend":null}}},
  {"data":{"name":"pts"},"transform":[{"filter":"datum.m=='b' && datum.g%2==1"}],"mark":{"type":"point","filled":false,"shape":"M-1,0H1M0,-1V1","size":55,"strokeWidth":1.2,"opacity":0.85},"encoding":{"color":{"field":"g","type":"nominal","scale":{"domain":[0,1,2,3,4,5],"range":["#ff1a1a","#ff4040","#8466dc","#ad9bee","#1a1ae6","#4f4ff2"]},"legend":null}}},
  {"data":{"name":"stats"},"transform":[{"filter":"datum.m=='b'"}],"mark":{"type":"rule","color":"#000","strokeWidth":2.5},"encoding":{"y":{"field":"lo","type":"quantitative","scale":{"domain":[0,0.15],"nice":false},"axis":{"title":"T₅₀ Ca²⁺ Binding (sec)","values":[0,0.05,0.1,0.15],"format":".2f"}},"y2":{"field":"hi"}}},
  {"data":{"name":"stats"},"transform":[{"filter":"datum.m=='b'"},{"fold":["lo","hi"],"as":["k","v"]}],"mark":{"type":"tick","orient":"horizontal","color":"#000","size":15,"thickness":2.5},"encoding":{"y":{"field":"v","type":"quantitative","scale":{"domain":[0,0.15],"nice":false},"axis":{"title":"T₅₀ Ca²⁺ Binding (sec)","values":[0,0.05,0.1,0.15],"format":".2f"}}}},
  {"data":{"name":"stats"},"transform":[{"filter":"datum.m=='b'"}],"mark":{"type":"tick","orient":"horizontal","color":"#000","size":29,"thickness":3}}
 ]},
{"width":265,"height":178,
 "encoding":{
  "x":{"field":"x","type":"quantitative","scale":{"domain":[-0.643,5.667],"nice":false,"zero":false},"axis":{"title":null,"values":[0,1,2,3,4,5],"labelExpr":"['RGECO','RGECO + OM','RGECO -TnT','RGECO-TnT + OM','RGECO-TnI','RGECO-TnI + OM'][datum.value]","labelAngle":-45,"labelAlign":"right","labelBaseline":"middle","labelFontSize":16,"labelPadding":2,"tickSize":5,"labelOverlap":false}},
  "y":{"field":"y","type":"quantitative","scale":{"domain":[0,0.4],"nice":false},"axis":{"title":"T₅₀ Ca²⁺ Release (sec)","values":[0,0.1,0.2,0.3,0.4],"format":".1f"}}
 },
 "layer":[
  {"data":{"values":[{"x":1.5},{"x":3.5}]},"mark":{"type":"rule","color":"#a0a0a0","strokeDash":[6,4],"strokeWidth":1.5},"encoding":{"y":{"datum":0,"type":"quantitative","scale":{"domain":[0,0.4],"nice":false},"axis":{"title":"T₅₀ Ca²⁺ Release (sec)","values":[0,0.1,0.2,0.3,0.4],"format":".1f"}},"y2":{"datum":0.405}}},
  {"data":{"name":"pts"},"transform":[{"filter":"datum.m=='r' && datum.g%2==0"}],"mark":{"type":"point","filled":true,"size":11,"opacity":0.9},"encoding":{"color":{"field":"g","type":"nominal","scale":{"domain":[0,1,2,3,4,5],"range":["#ff1a1a","#ff4040","#8466dc","#ad9bee","#1a1ae6","#4f4ff2"]},"legend":null}}},
  {"data":{"name":"pts"},"transform":[{"filter":"datum.m=='r' && datum.g%2==1"}],"mark":{"type":"point","filled":false,"shape":"M-1,0H1M0,-1V1","size":55,"strokeWidth":1.2,"opacity":0.85},"encoding":{"color":{"field":"g","type":"nominal","scale":{"domain":[0,1,2,3,4,5],"range":["#ff1a1a","#ff4040","#8466dc","#ad9bee","#1a1ae6","#4f4ff2"]},"legend":null}}},
  {"data":{"name":"stats"},"transform":[{"filter":"datum.m=='r'"}],"mark":{"type":"rule","color":"#000","strokeWidth":2.5},"encoding":{"y":{"field":"lo","type":"quantitative","scale":{"domain":[0,0.4],"nice":false},"axis":{"title":"T₅₀ Ca²⁺ Release (sec)","values":[0,0.1,0.2,0.3,0.4],"format":".1f"}},"y2":{"field":"hi"}}},
  {"data":{"name":"stats"},"transform":[{"filter":"datum.m=='r'"},{"fold":["lo","hi"],"as":["k","v"]}],"mark":{"type":"tick","orient":"horizontal","color":"#000","size":15,"thickness":2.5},"encoding":{"y":{"field":"v","type":"quantitative","scale":{"domain":[0,0.4],"nice":false},"axis":{"title":"T₅₀ Ca²⁺ Release (sec)","values":[0,0.1,0.2,0.3,0.4],"format":".1f"}}}},
  {"data":{"name":"stats"},"transform":[{"filter":"datum.m=='r'"}],"mark":{"type":"tick","orient":"horizontal","color":"#000","size":29,"thickness":3}}
 ]}
]
}
